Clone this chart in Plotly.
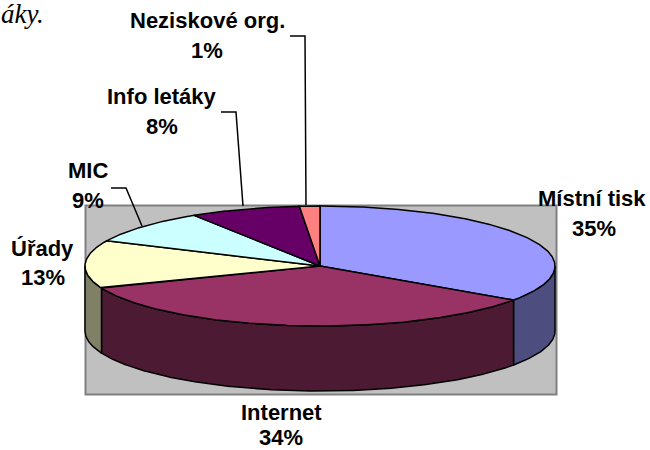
import numpy as np
import plotly.graph_objects as go

# Data
categories = ["Místní tisk", "Internet", "Úřady", "MIC", "Info letáky", "Neziskové org."]
values = [34.6, 34.4, 12.9, 9.1, 7.6, 1.4]
top_colors = ["#9999FF", "#993366", "#FFFFCC", "#CCFFFF", "#660066", "#FF8080"]
side_colors = ["#4D4D80", "#4D1A33", "#808066", "#668080", "#330033", "#804040"]

# Chart geometry in page pixels
CX, CY, RX, RY, DEPTH = 320, 266, 235, 60, 65
PLOT = (85.5, 205.5, 556.5, 394.5)
EDGE = 1.5

label_pos = [(592, 198), (281, 412), (42, 248), (88, 170), (162, 96), (207, 20)]
pct_pos = [(594, 228), (281, 437), (43, 277), (88, 200), (162, 126), (207, 50)]
leaders = {3: [(111, 188), (126, 188), (142, 226)],
           4: [(221, 112), (236, 112), (243, 206)],
           5: [(290, 36), (305, 36), (306, 205)]}


def arc(a, b, dy=0.0):
    t = np.radians(np.linspace(a, b, max(int(abs(b - a)) * 2, 2) + 1))
    return CX + RX * np.sin(t), CY - RY * np.cos(t) + dy


fig = go.Figure()


def poly(x, y, color):
    fig.add_trace(go.Scatter(x=list(x), y=list(y), mode="lines", fill="toself",
                             fillcolor=color, line=dict(color="black", width=EDGE),
                             hoverinfo="skip", showlegend=False))


edges = np.cumsum([0] + values) / sum(values) * 360

# Front walls of the disc
for i in range(len(values)):
    a, b = max(edges[i], 90), min(edges[i + 1], 270)
    if a < b:
        xt, yt = arc(a, b)
        xb, yb = arc(b, a, DEPTH)
        poly(np.r_[xt, xb, xt[0]], np.r_[yt, yb, yt[0]], side_colors[i])

# Top faces
for i in range(len(values)):
    x, y = arc(edges[i], edges[i + 1])
    poly(np.r_[CX, x, CX], np.r_[CY, y, CY], top_colors[i])

# Leader lines
for pts in leaders.values():
    fig.add_trace(go.Scatter(x=[p[0] for p in pts], y=[p[1] for p in pts], mode="lines",
                             line=dict(color="black", width=1.5),
                             hoverinfo="skip", showlegend=False))

font = dict(family="Liberation Sans", size=22, color="black", weight="bold")
annotations = []
for i, name in enumerate(categories):
    annotations.append(dict(x=label_pos[i][0], y=label_pos[i][1], text=f"<b>{name}</b>",
                            showarrow=False, font=font, xanchor="center", yanchor="middle"))
    annotations.append(dict(x=pct_pos[i][0], y=pct_pos[i][1], text=f"<b>{round(values[i])}%</b>",
                            showarrow=False, font=font, xanchor="center", yanchor="middle"))
annotations.append(dict(x=46, y=14, text="<i>áky.</i>", showarrow=False, xanchor="right",
                        yanchor="middle",
                        font=dict(family="Liberation Serif", size=27, color="black")))

fig.update_layout(
    width=650, height=450, margin=dict(l=0, r=0, t=0, b=0),
    paper_bgcolor="white", plot_bgcolor="white", showlegend=False,
    xaxis=dict(range=[0, 650], visible=False, fixedrange=True),
    yaxis=dict(range=[450, 0], visible=False, fixedrange=True),
    annotations=annotations,
    shapes=[dict(type="rect", x0=PLOT[0], y0=PLOT[1], x1=PLOT[2], y1=PLOT[3], layer="below",
                 fillcolor="#C0C0C0", line=dict(color="#808080", width=2))],
)
fig.write_html("out.html", config=dict(displayModeBar=False),
               post_script="document.body.style.margin='0';document.documentElement.style.overflow='hidden';")
